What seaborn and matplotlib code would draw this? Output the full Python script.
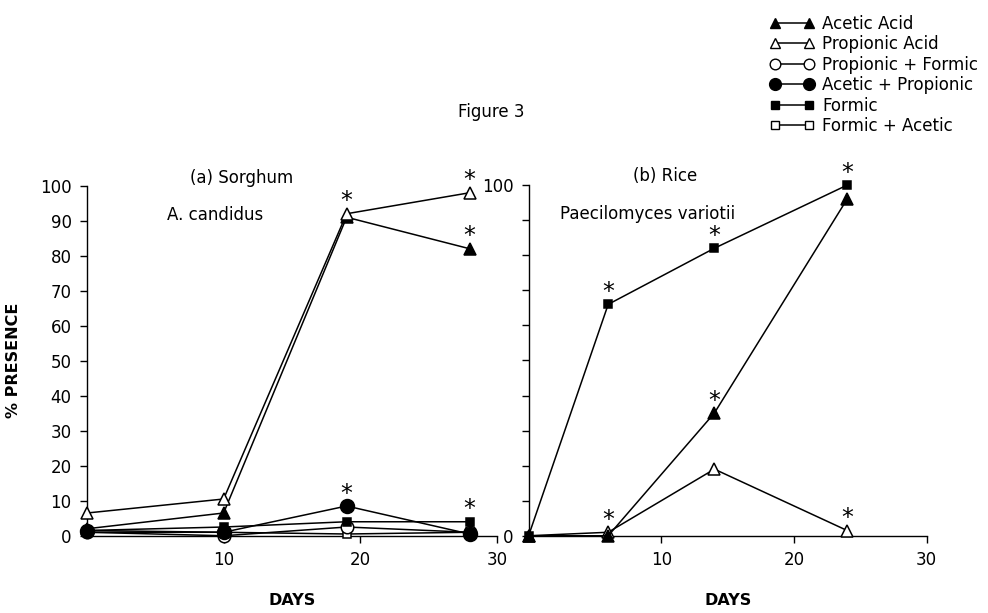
import matplotlib
matplotlib.use("Agg")
import matplotlib.pyplot as plt
import seaborn as sns
import pandas as pd
from matplotlib.lines import Line2D

sns.set_theme(style="ticks")
plt.rcParams['font.family'] = ['DejaVu Sans']
plt.rcParams['text.color'] = 'black'
plt.rcParams['axes.labelcolor'] = 'black'
plt.rcParams['xtick.color'] = 'black'
plt.rcParams['ytick.color'] = 'black'

# ---------------- data ----------------
series_names = ["Acetic Acid", "Propionic Acid", "Propionic + Formic",
                "Acetic + Propionic", "Formic", "Formic + Acetic"]

# (a) Sorghum
sorghum_days = [0, 10, 19, 28]
sorghum_acetic = [2, 6.5, 91, 82]
sorghum_propionic = [6.5, 10.5, 92, 98]
sorghum_prop_formic = [1, 0, 2.5, 1]
sorghum_acet_prop = [1.5, 1, 8.5, 0.5]
sorghum_formic = [1.5, 2.5, 4, 4]
sorghum_formic_acetic = [1, 1, 0.5, 1]
# significance stars (index of points)
sorghum_stars = {"Acetic Acid": [3], "Propionic Acid": [2, 3],
                 "Acetic + Propionic": [2], "Formic": [3]}

# (b) Rice
rice_days = [0, 6, 14, 24]
rice_formic = [0, 66, 82, 100]
rice_acetic = [0, 0, 35, 96]
rice_propionic = [0, 1, 19, 1.5]
rice_stars = {"Formic": [1, 2, 3], "Acetic Acid": [2], "Propionic Acid": [1, 3]}

# ---------------- styles ----------------
styles = {
    "Acetic Acid": dict(marker="^", mfc="black", ms=8),
    "Propionic Acid": dict(marker="^", mfc="white", ms=9),
    "Propionic + Formic": dict(marker="o", mfc="white", ms=9),
    "Acetic + Propionic": dict(marker="o", mfc="black", ms=10),
    "Formic": dict(marker="s", mfc="black", ms=6),
    "Formic + Acetic": dict(marker="s", mfc="white", ms=6),
}

fig = plt.figure(figsize=(9.88, 6.13), dpi=100)
axL = fig.add_axes([0.088, 0.126, 0.415, 0.571])
axR = fig.add_axes([0.535, 0.126, 0.403, 0.572])

def draw(ax, days, data, stars):
    for name, vals in data.items():
        st = styles[name]
        df = pd.DataFrame({"day": days, "val": vals})
        sns.lineplot(data=df, x="day", y="val", ax=ax, color="black", lw=1.1,
                     marker=st["marker"], markersize=st["ms"],
                     markerfacecolor=st["mfc"], markeredgecolor="black",
                     markeredgewidth=1.1, estimator=None, sort=False,
                     zorder=3, clip_on=False)
        for i in stars.get(name, []):
            ax.annotate("*", xy=(days[i], vals[i]), xytext=(0, 9),
                        textcoords="offset points", ha="center",
                        va="center", fontsize=17, color="black", zorder=4)

sorghum_data = {
    "Formic + Acetic": sorghum_formic_acetic,
    "Propionic + Formic": sorghum_prop_formic,
    "Formic": sorghum_formic,
    "Acetic + Propionic": sorghum_acet_prop,
    "Acetic Acid": sorghum_acetic,
    "Propionic Acid": sorghum_propionic,
}
rice_data = {
    "Propionic Acid": rice_propionic,
    "Acetic Acid": rice_acetic,
    "Formic": rice_formic,
}
draw(axL, sorghum_days, sorghum_data, sorghum_stars)
draw(axR, rice_days, rice_data, rice_stars)

for ax in (axL, axR):
    ax.set_xlim(0, 30)
    ax.set_ylim(0, 100)
    ax.spines["top"].set_visible(False)
    ax.spines["right"].set_visible(False)
    for s in ("left", "bottom"):
        ax.spines[s].set_color("black")
        ax.spines[s].set_linewidth(1.0)
    ax.set_xticks([10, 20, 30])
    ax.set_yticks(range(0, 101, 10))
    ax.tick_params(axis="both", direction="out", length=5, width=1,
                   colors="black", labelsize=12, pad=6)
    ax.set_xlabel("DAYS", fontsize=11.5, fontweight="bold", labelpad=17)
    ax.set_ylabel("")

axL.set_yticklabels([str(v) for v in range(0, 101, 10)])
axR.set_yticklabels(["0"] + [""] * 9 + ["100"])
axL.set_ylabel("% PRESENCE", fontsize=11.5, fontweight="bold", labelpad=14)

axL.text(0.251, 1.023, "(a) Sorghum", transform=axL.transAxes, fontsize=12,
         ha="left", va="center")
axL.text(0.195, 0.917, "A. candidus", transform=axL.transAxes, fontsize=12,
         ha="left", va="center")
axR.text(0.263, 1.026, "(b) Rice", transform=axR.transAxes, fontsize=12,
         ha="left", va="center")
axR.text(0.08, 0.917, "Paecilomyces variotii", transform=axR.transAxes,
         fontsize=12, ha="left", va="center")

fig.text(0.497, 0.817, "Figure 3", fontsize=12, ha="center", va="center")

handles = []
for name in series_names:
    st = styles[name]
    handles.append(Line2D([0], [0], color="black", lw=1.1, marker=st["marker"],
                          markersize=st["ms"] * 0.85, markerfacecolor=st["mfc"],
                          markeredgecolor="black"))
fig.legend(handles, series_names, loc="upper left",
           bbox_to_anchor=(0.768, 0.995), frameon=False, numpoints=2,
           handlelength=2.6, handletextpad=0.5, labelspacing=0.15,
           fontsize=12, borderaxespad=0.3)

fig.savefig("out.png", dpi=100)
